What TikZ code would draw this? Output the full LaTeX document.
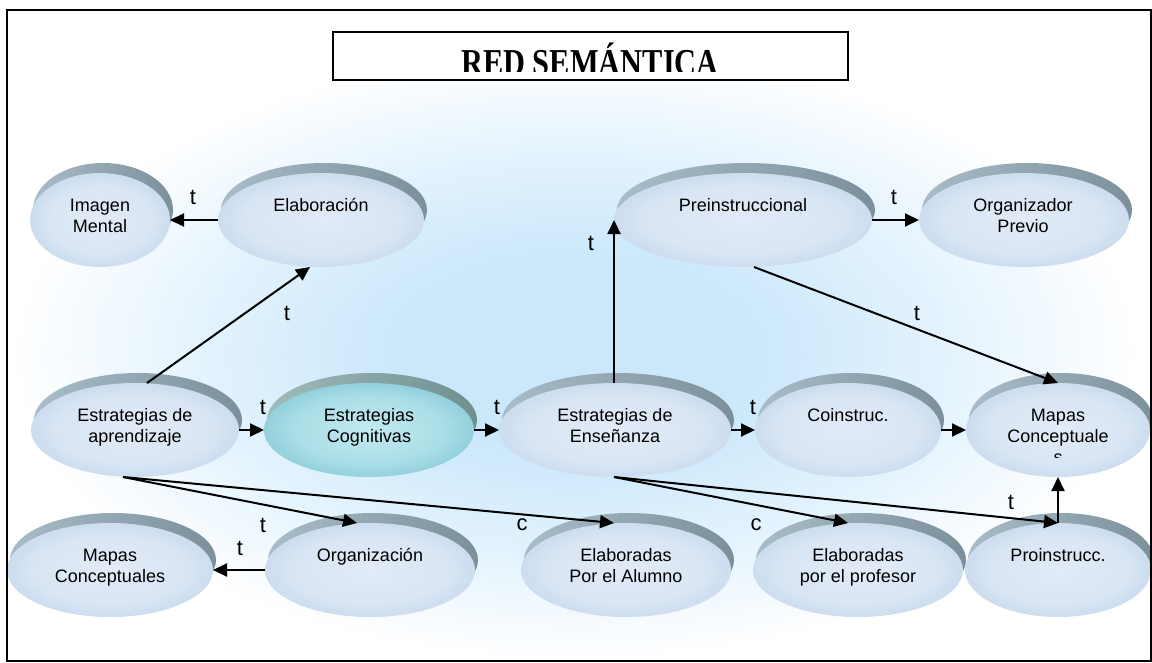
\documentclass[tikz,border=0pt]{standalone}
\usepackage{fontspec}
\usepackage{graphicx}
\setmainfont{Liberation Sans}
\newfontfamily\titlefont{Liberation Serif}
\usetikzlibrary{arrows.meta,shapes.geometric,calc}
\definecolor{bgblue}{HTML}{CBE8FB}
\definecolor{faceA}{HTML}{E2EBF7}
\definecolor{faceB}{HTML}{CCDDEF}
\definecolor{rimL}{HTML}{A9BDC8}
\definecolor{rimR}{HTML}{7B909B}
\definecolor{cogA}{HTML}{C2EAF0}
\definecolor{cogB}{HTML}{92D1DC}
\definecolor{cogRimL}{HTML}{9FBCBA}
\definecolor{cogRimR}{HTML}{6F8F8F}
\pgfdeclareradialshading{bgsh}{\pgfpoint{0bp}{0bp}}{color(0bp)=(bgblue); color(8bp)=(bgblue); color(17bp)=(bgblue!50!white); color(25bp)=(white); color(50bp)=(white)}
\pgfdeclareradialshading{facesh}{\pgfpoint{0bp}{0bp}}{color(0bp)=(faceA); color(18bp)=(faceA!60!faceB); color(25bp)=(faceB); color(50bp)=(faceB)}
\pgfdeclareradialshading{cogsh}{\pgfpoint{0bp}{0bp}}{color(0bp)=(cogA); color(18bp)=(cogA!50!cogB); color(25bp)=(cogB); color(50bp)=(cogB)}
\tikzset{
  face/.style={ellipse, inner sep=0pt, outer sep=0pt, minimum height=94pt, shading=facesh},
  cogface/.style={ellipse, inner sep=0pt, outer sep=0pt, minimum height=94pt, shading=cogsh},
  rim/.style={left color=rimL, right color=rimR},
  cogrim/.style={left color=cogRimL, right color=cogRimR},
  txt/.style={font=\fontsize{18}{21}\selectfont, inner sep=0pt, anchor=base},
  lab/.style={font=\fontsize{22}{24}\selectfont, inner sep=0pt},
  arr/.style={line width=2pt, -{Triangle[length=14pt,width=13pt]}},
}
\newcommand\mkdisc[6]{%
  \shade[#6] (#3+3,#4-10) ellipse [x radius=#5 pt, y radius=47pt];
  \node[#1, minimum width=2*#5 pt] (#2) at (#3,#4) {};
}
\newcommand\tb[1]{\begin{tabular}[t]{@{}c@{}}#1\end{tabular}}
\begin{document}
\begin{tikzpicture}[x=1pt,y=-1pt]
\useasboundingbox (0,0) rectangle (1152,662);
\fill[white] (0,0) rectangle (1152,662);
\shade[shading=bgsh] (10,50) rectangle (1140,660);
% title
\draw[line width=2pt, fill=white] (333,32) rectangle (848,80);
\begin{scope}
  \clip (334,33) rectangle (847,71);
  \node[anchor=base, inner sep=0pt] (title) at (590,75) {\scalebox{0.8}[1]{\titlefont\bfseries\fontsize{38}{40}\selectfont RED SEMÁNTICA}};
\end{scope}
% discs row 1
\mkdisc{face}{im}{100}{220}{70}{rim}
\mkdisc{face}{el}{321}{220}{103}{rim}
\mkdisc{face}{pre}{743}{220}{129}{rim}
\mkdisc{face}{org}{1024}{220}{105}{rim}
% row 2
\mkdisc{face}{ea}{135}{430}{104}{rim}
\mkdisc{cogface}{ec}{369}{430}{105}{cogrim}
\mkdisc{face}{ee}{615}{430}{116}{rim}
\mkdisc{face}{co}{848}{430}{93}{rim}
\mkdisc{face}{mc1}{1058}{430}{92}{rim}
% row 3
\mkdisc{face}{mc2}{110}{570}{103}{rim}
\mkdisc{face}{og}{370}{570}{105}{rim}
\mkdisc{face}{ep}{626}{570}{105}{rim}
\mkdisc{face}{ef}{858}{570}{105}{rim}
\mkdisc{face}{pr}{1058}{570}{93}{rim}
% texts
\node[txt] (im-t) at (100,211.5) {\tb{Imagen\\Mental}};
\node[txt] (el-t) at (321,211.5) {Elaboración};
\node[txt] (pre-t) at (743,211.5) {Preinstruccional};
\node[txt] (org-t) at (1023,211.5) {\tb{Organizador\\Previo}};
\node[txt] (ea-t) at (135,421.5) {\tb{Estrategias de\\aprendizaje}};
\node[txt] (ec-t) at (369,421.5) {\tb{Estrategias\\Cognitivas}};
\node[txt] (ee-t) at (615,421.5) {\tb{Estrategias de\\Enseñanza}};
\node[txt] (co-t) at (848,421.5) {Coinstruc.};
\begin{scope}
  \clip (960,395) rectangle (1156,457.5);
  \node[txt] (mc1-t) at (1058,421.5) {\tb{Mapas\\Conceptuale\\s}};
\end{scope}
\node[txt] (mc2-t) at (110,561.5) {\tb{Mapas\\Conceptuales}};
\node[txt] (og-t) at (370,561.5) {Organización};
\node[txt] (ep-t) at (626,561.5) {\tb{Elaboradas\\Por el Alumno}};
\node[txt] (ef-t) at (858,561.5) {\tb{Elaboradas\\por el profesor}};
\node[txt] (pr-t) at (1058,561.5) {Proinstrucc.};
% connectors
\draw[arr] (el.west) -- (im.east);
\draw[arr] ($(ea.north)+(12,0)$) -- ($(el.south)+(-11,0)$);
\draw[arr] (ea.east) -- (ec.west);
\draw[arr] (ec.east) -- (ee.west);
\draw[arr] (ee.east) -- (co.west);
\draw[arr] (co.east) -- (mc1.west);
\draw[arr] ($(ee.north)+(-1,0)$) -- (pre.west);
\draw[arr] (pre.east) -- (org.west);
\draw[arr] ($(pre.south)+(11,0)$) -- (mc1.north);
\draw[arr] ($(ea.south)+(-12,0)$) -- ($(og.north)+(-13,0)$);
\draw[arr] ($(ea.south)+(-12,0)$) -- ($(ep.north)+(-12,0)$);
\draw[arr] (og.west) -- (mc2.east);
\draw[arr] ($(ee.south)+(-1,0)$) -- ($(ef.north)+(-10,0)$);
\draw[arr] ($(ee.south)+(-1,0)$) -- (pr.north);
\draw[arr] (pr.north) -- (mc1.south);
% connector labels
\node[lab] (l1) at (193,197) {t};
\node[lab] (l2) at (287,313) {t};
\node[lab] (l3) at (263,407) {t};
\node[lab] (l4) at (497,407) {t};
\node[lab] (l5) at (753,407) {t};
\node[lab] (l6) at (591,243) {t};
\node[lab] (l7) at (894,197) {t};
\node[lab] (l8) at (917,313) {t};
\node[lab] (l9) at (263,525) {t};
\node[lab] (l10) at (240,548) {t};
\node[lab] (l11) at (522,525) {c};
\node[lab] (l12) at (756,525) {c};
\node[lab] (l13) at (1011,502) {t};
% frame
\draw[line width=2pt] (7,10) rectangle (1151,661);
\end{tikzpicture}
\end{document}
